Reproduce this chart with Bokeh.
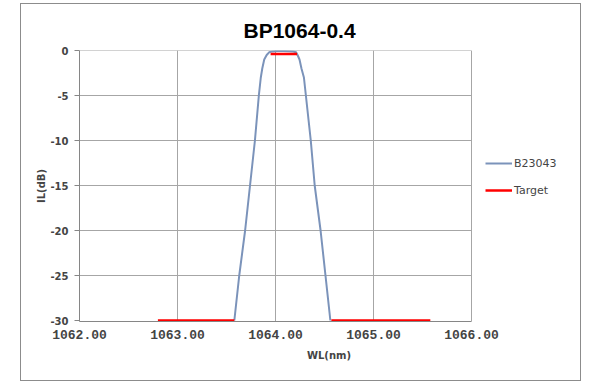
import numpy as np
from bokeh.plotting import figure
from bokeh.models import Range1d, FixedTicker, Legend, LegendItem, InlineStyleSheet
from bokeh.embed import file_html
from bokeh.resources import INLINE

# ---- data ----
title_text = "BP1064-0.4"
x_label = "WL(nm)"
y_label = "IL(dB)"
x_ticks = [1062.0, 1063.0, 1064.0, 1065.0, 1066.0]
x_tick_labels = ["1062.00", "1063.00", "1064.00", "1065.00", "1066.00"]
y_ticks = [-30, -25, -20, -15, -10, -5, 0]
y_tick_labels = ["-30", "-25", "-20", "-15", "-10", "-5", "0"]

series_name = "B23043"
wl = [1063.58, 1063.63, 1063.69, 1063.74, 1063.79, 1063.83, 1063.85, 1063.865,
      1063.885, 1063.91, 1063.935, 1063.97, 1064.02, 1064.08, 1064.14, 1064.18,
      1064.21, 1064.225, 1064.245, 1064.265, 1064.29, 1064.31, 1064.36, 1064.40,
      1064.46, 1064.51, 1064.56]
il = [-30.0, -25.0, -20.0, -15.0, -10.0, -5.0, -3.0, -2.0,
      -1.0, -0.5, -0.2, -0.1, -0.05, -0.05, -0.08, -0.12,
      -0.2, -0.5, -1.0, -2.0, -3.0, -5.0, -10.0, -15.0,
      -20.0, -25.0, -30.0]

target_name = "Target"
target_x = [1062.8, 1063.58, np.nan, 1063.95, 1064.22, np.nan, 1064.57, 1065.58]
target_y = [-30.0, -30.0, np.nan, -0.4, -0.4, np.nan, -30.0, -30.0]

# ---- layout (pixels) ----
W, H = 600, 383
LEFT, TOP, BOTTOM = 79, 50, 62
AXIS_RIGHT = 471          # where the last x tick sits
FRAME_RIGHT = 578         # frame extended to host the legend
GRID = "#a6a6a6"
AXIS = "#868686"

x0, x1 = x_ticks[0], x_ticks[-1]
x_end = x1 + (x1 - x0) * (FRAME_RIGHT - AXIS_RIGHT) / (AXIS_RIGHT - LEFT)
y_pad = (y_ticks[-1] - y_ticks[0]) * 1.0 / (H - TOP - BOTTOM - 1)

p = figure(width=W, height=H, output_backend="svg", toolbar_location=None,
           x_range=Range1d(x0, x_end),
           y_range=Range1d(y_ticks[0] - y_pad, y_ticks[-1]),
           min_border_left=LEFT, min_border_right=W - FRAME_RIGHT,
           min_border_top=TOP, min_border_bottom=BOTTOM)
p.stylesheets = [InlineStyleSheet(css=(
    ":host::after { content: ''; position: absolute; left: 20px; top: 3px;"
    " width: 561px; height: 378px; border: 1px solid #8c8c8c;"
    " box-sizing: border-box; pointer-events: none; }"))]

p.title.text = title_text
p.title.align = "left"
p.title.offset = 164
p.title.standoff = 18
p.title.text_font = "Liberation Sans"
p.title.text_font_size = "21px"
p.title.text_font_style = "bold"
p.title.text_color = "black"

p.outline_line_color = None
p.background_fill_color = "white"
p.border_fill_color = "white"

p.xgrid.grid_line_color = GRID
p.xgrid.ticker = FixedTicker(ticks=x_ticks)
p.ygrid.grid_line_color = None

# horizontal grid lines limited to the axis extent
gy = y_ticks[1:]
p.segment(x0=[x0] * len(gy), y0=gy, x1=[x1] * len(gy), y1=gy,
          line_color=GRID, line_width=1, level="underlay")

xa = p.xaxis[0]
xa.ticker = FixedTicker(ticks=x_ticks)
xa.bounds = (x0, x1)
xa.major_label_overrides = {v: s for v, s in zip(x_ticks, x_tick_labels)}
xa.major_tick_out = 0
xa.major_tick_in = 0
xa.minor_tick_out = 0
xa.minor_tick_in = 0
xa.axis_line_color = AXIS
xa.major_label_text_font = "Liberation Mono"
xa.major_label_text_font_size = "13px"
xa.major_label_text_font_style = "bold"
xa.major_label_standoff = 8
xa.axis_label = x_label
xa.axis_label_text_font = "DejaVu Sans"
xa.axis_label_text_font_size = "10px"
xa.axis_label_text_font_style = "bold"
xa.axis_label_standoff = 8

ya = p.yaxis[0]
ya.ticker = FixedTicker(ticks=y_ticks)
ya.major_label_overrides = {v: s for v, s in zip(y_ticks, y_tick_labels)}
ya.major_tick_out = 5
ya.major_tick_in = 0
ya.minor_tick_out = 0
ya.minor_tick_in = 0
ya.axis_line_color = AXIS
ya.major_tick_line_color = AXIS
ya.major_label_text_font = "DejaVu Sans"
ya.major_label_text_font_size = "10px"
ya.major_label_text_font_style = "bold"
ya.major_label_standoff = 6
ya.axis_label = y_label
ya.axis_label_text_font = "DejaVu Sans"
ya.axis_label_text_font_size = "10px"
ya.axis_label_text_font_style = "bold"
ya.axis_label_standoff = 0

r1 = p.line(wl, il, line_color="#7b93ba", line_width=2)
r2 = p.line(target_x, target_y, line_color="#ff0000", line_width=2.5)

legend = Legend(items=[LegendItem(label=series_name, renderers=[r1]),
                       LegendItem(label=target_name, renderers=[r2])],
                location=(485 - LEFT, 121), padding=0, margin=0, spacing=7,
                glyph_width=27, glyph_height=20, label_standoff=2,
                border_line_color=None, background_fill_alpha=0,
                label_text_font="DejaVu Sans", label_text_font_size="11px")
p.add_layout(legend, "center")

open("out.html", "w").write(file_html(p, INLINE))
